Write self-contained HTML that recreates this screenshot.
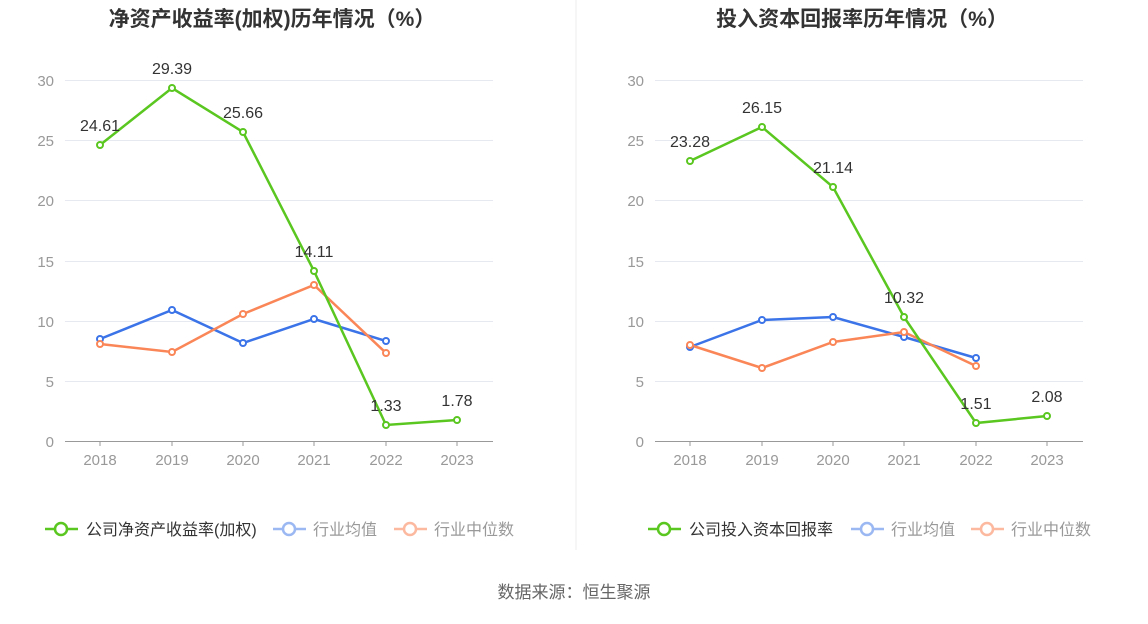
<!DOCTYPE html>
<html><head><meta charset="utf-8"><style>
body{margin:0;background:#fff;}
svg text{font-family:"Liberation Sans","Noto Sans CJK SC",sans-serif;}
</style></head><body>
<svg width="1148" height="619" xmlns="http://www.w3.org/2000/svg">
<rect width="1148" height="619" fill="#fff"/>
<line x1="576" y1="0" x2="576" y2="550" stroke="#eee"/>
<text x="272" y="26" text-anchor="middle" font-size="21" font-weight="bold" fill="#333">净资产收益率(加权)历年情况（%）</text>
<text x="862" y="26" text-anchor="middle" font-size="21" font-weight="bold" fill="#333">投入资本回报率历年情况（%）</text>
<g stroke="#e6e9f0" stroke-width="1">
<line x1="65" y1="80.5" x2="493" y2="80.5"/><line x1="65" y1="140.5" x2="493" y2="140.5"/><line x1="65" y1="200.5" x2="493" y2="200.5"/><line x1="65" y1="261.5" x2="493" y2="261.5"/><line x1="65" y1="321.5" x2="493" y2="321.5"/><line x1="65" y1="381.5" x2="493" y2="381.5"/>
<line x1="655" y1="80.5" x2="1083" y2="80.5"/><line x1="655" y1="140.5" x2="1083" y2="140.5"/><line x1="655" y1="200.5" x2="1083" y2="200.5"/><line x1="655" y1="261.5" x2="1083" y2="261.5"/><line x1="655" y1="321.5" x2="1083" y2="321.5"/><line x1="655" y1="381.5" x2="1083" y2="381.5"/>
</g>
<g stroke="#999"><line x1="65" y1="441.5" x2="493" y2="441.5"/><line x1="655" y1="441.5" x2="1083" y2="441.5"/>
<line x1="100" y1="441" x2="100" y2="446"/><line x1="172" y1="441" x2="172" y2="446"/><line x1="243" y1="441" x2="243" y2="446"/><line x1="314" y1="441" x2="314" y2="446"/><line x1="386" y1="441" x2="386" y2="446"/><line x1="457" y1="441" x2="457" y2="446"/>
<line x1="690" y1="441" x2="690" y2="446"/><line x1="762" y1="441" x2="762" y2="446"/><line x1="833" y1="441" x2="833" y2="446"/><line x1="904" y1="441" x2="904" y2="446"/><line x1="976" y1="441" x2="976" y2="446"/><line x1="1047" y1="441" x2="1047" y2="446"/></g>
<g font-size="15" fill="#999" text-anchor="end">
<text x="54" y="86">30</text><text x="54" y="146">25</text><text x="54" y="206">20</text><text x="54" y="267">15</text><text x="54" y="327">10</text><text x="54" y="387">5</text><text x="54" y="447">0</text>
<text x="644" y="86">30</text><text x="644" y="146">25</text><text x="644" y="206">20</text><text x="644" y="267">15</text><text x="644" y="327">10</text><text x="644" y="387">5</text><text x="644" y="447">0</text>
</g>
<g font-size="15" fill="#999" text-anchor="middle">
<text x="100" y="465">2018</text><text x="172" y="465">2019</text><text x="243" y="465">2020</text><text x="314" y="465">2021</text><text x="386" y="465">2022</text><text x="457" y="465">2023</text>
<text x="690" y="465">2018</text><text x="762" y="465">2019</text><text x="833" y="465">2020</text><text x="904" y="465">2021</text><text x="976" y="465">2022</text><text x="1047" y="465">2023</text>
</g>
<g fill="#fff" stroke-width="2.5">
<polyline fill="none" stroke="#3b73e8" points="100,339 172,310 243,343 314,319 386,341"/>
<polyline fill="none" stroke="#fa8658" points="100,344 172,352 243,314 314,285 386,353"/>
<polyline fill="none" stroke="#5ac620" points="100,145 172,88 243,132 314,271 386,425 457,420"/>
<polyline fill="none" stroke="#3b73e8" points="690,347 762,320 833,317 904,337 976,358"/>
<polyline fill="none" stroke="#fa8658" points="690,345 762,368 833,342 904,332 976,366"/>
<polyline fill="none" stroke="#5ac620" points="690,161 762,127 833,187 904,317 976,423 1047,416"/>
<g stroke="#3b73e8" stroke-width="2"><circle cx="100" cy="339" r="3"/><circle cx="172" cy="310" r="3"/><circle cx="243" cy="343" r="3"/><circle cx="314" cy="319" r="3"/><circle cx="386" cy="341" r="3"/>
<circle cx="690" cy="347" r="3"/><circle cx="762" cy="320" r="3"/><circle cx="833" cy="317" r="3"/><circle cx="904" cy="337" r="3"/><circle cx="976" cy="358" r="3"/></g>
<g stroke="#fa8658" stroke-width="2"><circle cx="100" cy="344" r="3"/><circle cx="172" cy="352" r="3"/><circle cx="243" cy="314" r="3"/><circle cx="314" cy="285" r="3"/><circle cx="386" cy="353" r="3"/>
<circle cx="690" cy="345" r="3"/><circle cx="762" cy="368" r="3"/><circle cx="833" cy="342" r="3"/><circle cx="904" cy="332" r="3"/><circle cx="976" cy="366" r="3"/></g>
<g stroke="#5ac620" stroke-width="2"><circle cx="100" cy="145" r="3"/><circle cx="172" cy="88" r="3"/><circle cx="243" cy="132" r="3"/><circle cx="314" cy="271" r="3"/><circle cx="386" cy="425" r="3"/><circle cx="457" cy="420" r="3"/>
<circle cx="690" cy="161" r="3"/><circle cx="762" cy="127" r="3"/><circle cx="833" cy="187" r="3"/><circle cx="904" cy="317" r="3"/><circle cx="976" cy="423" r="3"/><circle cx="1047" cy="416" r="3"/></g>
</g>
<g font-size="16" fill="#333" text-anchor="middle">
<text x="100" y="131">24.61</text><text x="172" y="74">29.39</text><text x="243" y="118">25.66</text><text x="314" y="257">14.11</text><text x="386" y="411">1.33</text><text x="457" y="406">1.78</text>
<text x="690" y="147">23.28</text><text x="762" y="113">26.15</text><text x="833" y="173">21.14</text><text x="904" y="303">10.32</text><text x="976" y="409">1.51</text><text x="1047" y="402">2.08</text>
</g>
<g font-size="16" stroke-width="2.5" fill="#fff">
<line x1="45" y1="529" x2="78" y2="529" stroke="#5ac620"/><circle cx="61" cy="529" r="6" stroke="#5ac620"/>
<text x="86" y="535" fill="#333" stroke="none">公司净资产收益率(加权)</text>
<line x1="273" y1="529" x2="306" y2="529" stroke="#9bb8f3"/><circle cx="289" cy="529" r="6" stroke="#9bb8f3"/>
<text x="313" y="535" fill="#999" stroke="none">行业均值</text>
<line x1="394" y1="529" x2="427" y2="529" stroke="#fcb9a0"/><circle cx="410" cy="529" r="6" stroke="#fcb9a0"/>
<text x="434" y="535" fill="#999" stroke="none">行业中位数</text>
<line x1="648" y1="529" x2="681" y2="529" stroke="#5ac620"/><circle cx="664" cy="529" r="6" stroke="#5ac620"/>
<text x="689" y="535" fill="#333" stroke="none">公司投入资本回报率</text>
<line x1="851" y1="529" x2="884" y2="529" stroke="#9bb8f3"/><circle cx="867" cy="529" r="6" stroke="#9bb8f3"/>
<text x="891" y="535" fill="#999" stroke="none">行业均值</text>
<line x1="971" y1="529" x2="1004" y2="529" stroke="#fcb9a0"/><circle cx="987" cy="529" r="6" stroke="#fcb9a0"/>
<text x="1011" y="535" fill="#999" stroke="none">行业中位数</text>
</g>
<text x="574" y="598" text-anchor="middle" font-size="17" fill="#666">数据来源：恒生聚源</text>
</svg>
</body></html>
